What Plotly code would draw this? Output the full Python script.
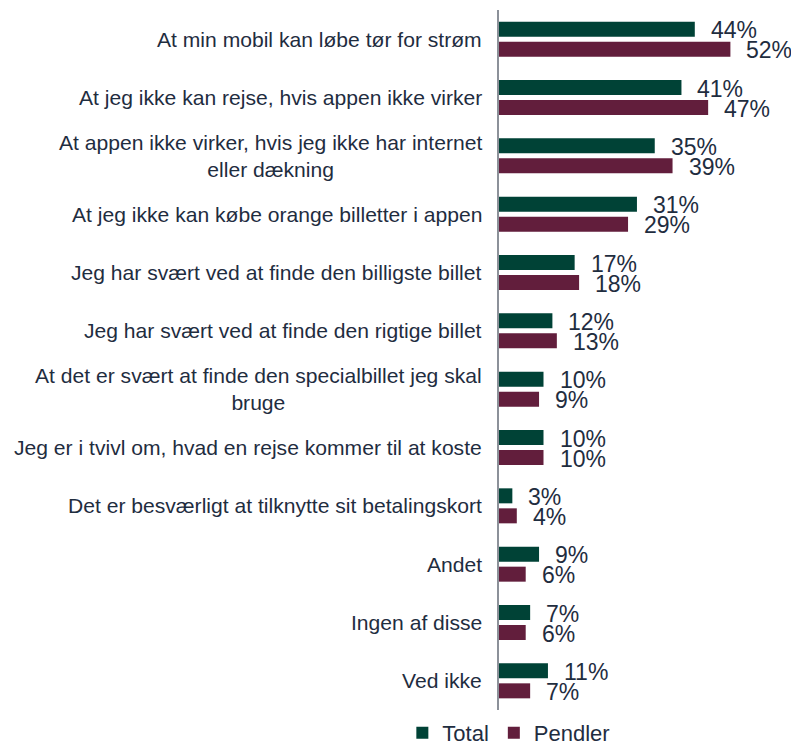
import plotly.graph_objects as go

categories = [
    "At min mobil kan løbe tør for strøm",
    "At jeg ikke kan rejse, hvis appen ikke virker",
    "At appen ikke virker, hvis jeg ikke har internet<br>eller dækning",
    "At jeg ikke kan købe orange billetter i appen",
    "Jeg har svært ved at finde den billigste billet",
    "Jeg har svært ved at finde den rigtige billet",
    "At det er svært at finde den specialbillet jeg skal<br>bruge",
    "Jeg er i tvivl om, hvad en rejse kommer til at koste",
    "Det er besværligt at tilknytte sit betalingskort",
    "Andet",
    "Ingen af disse",
    "Ved ikke",
]
total = [44, 41, 35, 31, 17, 12, 10, 10, 3, 9, 7, 11]
pendler = [52, 47, 39, 29, 18, 13, 9, 10, 4, 6, 6, 7]

GREEN = "#004236"
MAROON = "#621E3C"
TXT = "#1F2D3F"
FONT = "Liberation Sans, Arial, sans-serif"

fig = go.Figure()
fig.add_trace(go.Bar(name="Total", y=categories, x=total, orientation="h",
                     marker=dict(color=GREEN, line=dict(width=0))))
fig.add_trace(go.Bar(name="Pendler", y=categories, x=pendler, orientation="h",
                     marker=dict(color=MAROON, line=dict(width=0))))

ann = []
for c, t, p in zip(categories, total, pendler):
    ann.append(dict(x=t, y=c, xref="x", yref="y", text=f"{t}%", showarrow=False,
                    xanchor="left", yanchor="middle", xshift=14, yshift=9,
                    font=dict(size=23, color=TXT, family=FONT)))
    ann.append(dict(x=p, y=c, xref="x", yref="y", text=f"{p}%", showarrow=False,
                    xanchor="left", yanchor="middle", xshift=14, yshift=-11,
                    font=dict(size=23, color=TXT, family=FONT)))
    ann.append(dict(x=0, y=c, xref="x", yref="y", text=c, showarrow=False,
                    xanchor="right", yanchor="middle", xshift=-15, align="center",
                    font=dict(size=21.1, color=TXT, family=FONT)))

fig.update_layout(
    width=791, height=742,
    margin=dict(l=499, r=25, t=10, b=32, autoexpand=False),
    paper_bgcolor="white", plot_bgcolor="white",
    barmode="group", bargap=0.314, bargroupgap=0.25,
    font=dict(family=FONT, color=TXT, size=22),
    xaxis=dict(range=[0, 60], visible=False, fixedrange=True),
    yaxis=dict(autorange="reversed", showticklabels=False, ticks="",
               showline=True, linecolor="#8C9199", linewidth=1.5,
               showgrid=False, zeroline=False, type="category", fixedrange=True),
    showlegend=True,
    legend=dict(orientation="h", x=-0.362, xanchor="left", y=-0.0028, yanchor="top",
                font=dict(size=22, color=TXT, family=FONT), itemwidth=30,
                traceorder="normal", bgcolor="rgba(0,0,0,0)"),
    annotations=ann,
)

fig.write_html("out.html", config={"displayModeBar": False},
               post_script="document.body.style.margin='0px';document.body.style.overflow='hidden';")
